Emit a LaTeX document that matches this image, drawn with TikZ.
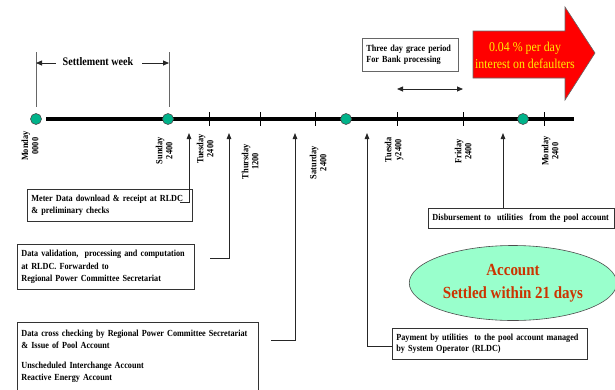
\documentclass[tikz,border=0pt]{standalone}
\usepackage{fontspec}
\setmainfont{Liberation Serif}[FakeStretch=0.88]
\usetikzlibrary{arrows.meta,shapes.geometric}
\definecolor{dotfill}{HTML}{00B38A}
\definecolor{ellfill}{HTML}{99FFCC}
\definecolor{elltext}{HTML}{CC3300}
\definecolor{arrred}{HTML}{FF0000}
\definecolor{arrtext}{HTML}{FFEE00}
\tikzset{
  box/.style={draw=black!80, line width=0.8pt, fill=white, anchor=north west, align=left,
    font=\fontsize{9.3}{11.5}\selectfont\bfseries, inner xsep=4pt, inner ysep=2pt},
  daylab/.style={rotate=90, anchor=east, align=center, inner sep=0pt,
    font=\fontsize{9.5}{10}\selectfont\bfseries},
  conn/.style={draw=black!85, line width=0.8pt},
  upar/.style={conn, -{Triangle[length=6pt,width=4.5pt]}},
  dot/.style={circle, draw=black!70, line width=0.6pt, fill=dotfill, minimum size=11pt, inner sep=0pt},
  tick/.style={line width=0.8pt},
}
\begin{document}
\begin{tikzpicture}[x=1pt,y=-1pt]
\useasboundingbox (0,0) rectangle (615,389);
% timeline
\draw[line width=3.5pt] (46,119) -- (574,119);
\foreach \x in {209,260,315,397,463,544} \draw[tick] (\x,112) -- (\x,126);
\node[dot] (d1) at (36,119) {};
\node[dot] (d2) at (168,119) {};
\node[dot] (d3) at (346,119) {};
\node[dot] (d4) at (523,119) {};
% day labels
\node[daylab] (l1) at (30,131) {Monday\\0000};
\node[daylab] (l2) at (164,137) {Sunday\\2400};
\node[daylab] (l3) at (205,134) {Tuesday\\2400};
\node[daylab] (l4) at (250,144) {Thursday\\1200};
\node[daylab] (l5) at (318,146) {Saturday\\2400};
\node[daylab] (l6) at (394,137) {Tuesda\\y2400};
\node[daylab] (l7) at (463,139) {Friday\\2400};
\node[daylab] (l8) at (550,136) {Monday\\2400};
% settlement week
\coordinate (sw1a) at (36,52); \coordinate (sw1b) at (36,107);
\coordinate (sw2a) at (169,52); \coordinate (sw2b) at (169,107);
\draw[draw=black!60, line width=0.8pt] (sw1a) -- (sw1b);
\draw[draw=black!60, line width=0.8pt] (sw2a) -- (sw2b);
\node[font=\fontsize{11.5}{13}\selectfont\bfseries, inner sep=1pt] (sw) at (98,62) {Settlement week};
\coordinate (swl) at (36,63); \coordinate (swr) at (169,63);
\draw[conn, -{Triangle[length=6pt,width=5pt]}] (sw.west |- swl) ++(-6,0) -- (swl);
\draw[conn, -{Triangle[length=6pt,width=5pt]}] (sw.east |- swr) ++(8,0) -- (swr);
% grace period
\node[box, minimum width=96pt, minimum height=33pt, text width=88pt, draw=black!60, inner xsep=4pt] (grace) at (362,38) {Three day grace period\\For Bank processing};
\coordinate (g1) at (397,89); \coordinate (g2) at (463,89);
\draw[conn, {Triangle[length=6pt,width=5pt]}-{Triangle[length=6pt,width=5pt]}] (g1) -- (g2);
% red arrow
\draw[fill=arrred, draw=black!60, line width=0.6pt] (473,31) -- (565,31) -- (565,7) -- (595,53) -- (565,100) -- (565,78) -- (473,78) -- cycle;
\node[text=arrtext, align=center, font=\fontsize{13.5}{17}\selectfont] (red) at (525,55) {0.04 \% per day\\interest on defaulters};
% boxes
\node[box, minimum width=165pt, minimum height=32pt, text width=157pt] (b1) at (27,189) {Meter Data download \& receipt at RLDC\\\& preliminary checks};
\node[box, minimum width=177pt, minimum height=45pt, text width=169pt, font=\fontsize{9.3}{12.5}\selectfont\bfseries] (b2) at (17,244) {Data validation, \ processing and computation\\at RLDC. Forwarded to\\Regional Power Committee Secretariat};
\node[box, minimum width=241pt, minimum height=68pt, text width=233pt] (b3) at (17,322) {Data cross checking by Regional Power Committee Secretariat\\\& Issue of Pool Account\\[9pt]Unscheduled Interchange Account\\Reactive Energy Account};
\node[box, minimum width=186pt, minimum height=20pt, text width=178pt] (b4) at (428,208) {Disbursement to \ utilities \ from the pool account};
\node[box, minimum width=195pt, minimum height=31pt, text width=187pt] (b5) at (392,328) {Payment by utilities \ to the pool account managed\\by System Operator (RLDC)};
% ellipse
\node[ellipse, draw=black!70, line width=0.6pt, fill=ellfill, minimum width=182pt, minimum height=75pt,
  text=elltext, align=center, font=\fontsize{17}{23}\selectfont\bfseries] (ell) at (513,283) {Account\\Settled within 21 days};
% connectors
\coordinate (t1) at (189,133); \coordinate (t2) at (229,133); \coordinate (t3) at (295,133);
\coordinate (t4) at (367,133); \coordinate (t5) at (503,133);
\coordinate (c1) at (180,202); \coordinate (c2) at (210,258); \coordinate (c3) at (271,340);
\draw[upar] (c1) -| (t1);
\draw[upar] (c2) -| (t2);
\draw[upar] (c3) -| (t3);
\draw[upar] (b5.west |- 0,346) -| (t4);
\draw[upar] (b4.north -| t5) -- (t5);
\end{tikzpicture}
\end{document}
